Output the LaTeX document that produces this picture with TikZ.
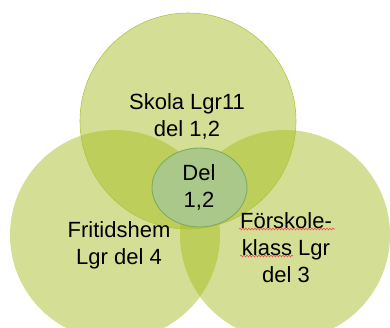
\documentclass[tikz,border=0pt]{standalone}
\usepackage{fontspec}
\setmainfont{Liberation Sans}
\usetikzlibrary{shapes.geometric,decorations.pathmorphing}
\definecolor{vennfill}{RGB}{160,185,20}
\definecolor{vennline}{RGB}{178,196,64}
\definecolor{delfill}{RGB}{170,200,138}
\definecolor{delline}{RGB}{125,172,92}
\definecolor{spellred}{RGB}{232,80,80}
\tikzset{
  venn/.style={circle,inner sep=0pt,fill=vennfill,fill opacity=0.45},
  vtext/.style={align=center,inner sep=0pt,font=\fontsize{22}{27}\selectfont},
  squiggle/.style={spellred,line width=0.6pt,decorate,
    decoration={snake,amplitude=0.9pt,segment length=3pt}}
}
\begin{document}
\begin{tikzpicture}[x=1pt,y=-1pt]
    \useasboundingbox (0,0) rectangle (390,327);
    % tre cirklar
    \node[venn,minimum size=210pt] (fritids) at (115,235) {};
    \node[venn,minimum size=210pt] (forskole) at (285,235) {};
    \node[venn,minimum size=216pt,draw=vennline,draw opacity=1,line width=0.6pt] (skola) at (188,121) {};
    % gemensam del
    \node[ellipse,minimum width=95pt,minimum height=79pt,inner sep=0pt,
          fill=delfill,draw=delline,line width=0.9pt] (del) at (199.5,187.5) {};
    \node[vtext] (skolatext) at (187,116) {Skola Lgr11\\del 1,2};
    \node[vtext] (fritidstext) at (119,245.5) {Fritidshem\\Lgr del 4};
    \node[vtext] (forskoletext) at (286,247.5) {Förskole-\\klass Lgr\\del 3};
    \node[vtext] (deltext) at (199,187.5) {Del\\1,2};
    % stavningskontroll
    \draw[squiggle] (239,229) -- (335,229);
    \draw[squiggle] (240,256) -- (293,256);
\end{tikzpicture}
\end{document}
